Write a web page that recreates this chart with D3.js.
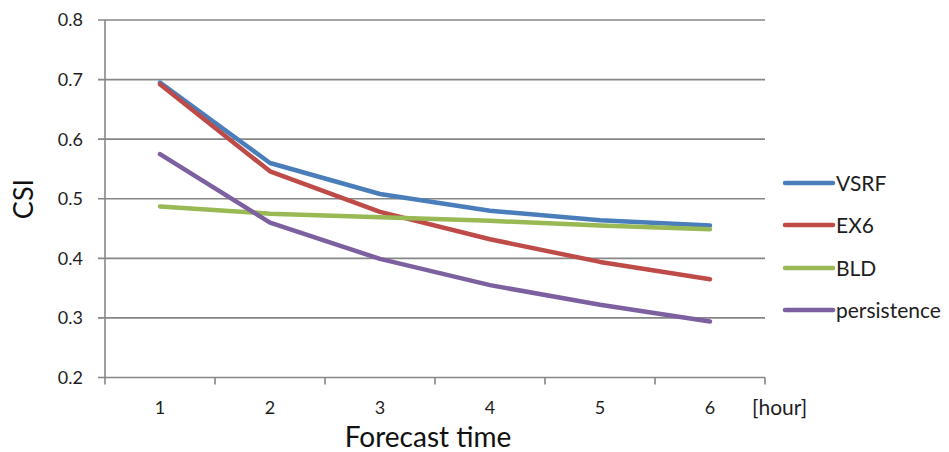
<!DOCTYPE html>
<html lang="en">
<head>
    <meta charset="UTF-8">
    <title>CSI vs forecast time</title>
    <script src="https://d3js.org/d3.v7.min.js"></script>
    <style>
        body {
            margin: 0;
            background: #fff;
            font-family: Lato, "Open Sans", sans-serif;
        }
        svg {
            display: block;
        }
    </style>
</head>
<body>

    <div id="container"></div>

    <script>

        // data
        const hours = [1, 2, 3, 4, 5, 6];
        const yTicks = [0.2, 0.3, 0.4, 0.5, 0.6, 0.7, 0.8];
        const seriesNames = ['VSRF', 'EX6', 'BLD', 'persistence'];
        const seriesColors = ['#4a7ebb', '#be4b48', '#98b954', '#7d60a0'];
        const vsrf = [0.695, 0.560, 0.508, 0.480, 0.464, 0.455];
        const ex6 = [0.692, 0.546, 0.478, 0.432, 0.394, 0.365];
        const bld = [0.487, 0.475, 0.469, 0.463, 0.455, 0.449];
        const persistence = [0.575, 0.460, 0.399, 0.355, 0.322, 0.294];

        const allSeries = [vsrf, ex6, bld, persistence];

        const width = 949;
        const height = 452;

        // plot area
        const plotLeft = 105;
        const plotRight = 765;
        const plotTop = 20;
        const plotBottom = 377.5;

        const svg = d3.select('#container')
            .append('svg')
            .attr('width', width)
            .attr('height', height);

        const x = d3.scaleBand()
            .domain(hours)
            .range([plotLeft, plotRight]);

        const y = d3.scaleLinear()
            .domain([0.2, 0.8])
            .range([plotBottom, plotTop]);

        const gridColor = '#868686';
        const textColor = '#1e1e1e';

        // horizontal gridlines
        svg.selectAll('.grid')
            .data(yTicks)
            .enter()
            .append('line')
            .attr('class', 'grid')
            .attr('x1', plotLeft - 7)
            .attr('x2', plotRight)
            .attr('y1', d => y(d))
            .attr('y2', d => y(d))
            .attr('stroke', gridColor)
            .attr('stroke-width', 1.6);

        // y axis line
        svg.append('line')
            .attr('x1', plotLeft)
            .attr('x2', plotLeft)
            .attr('y1', plotTop)
            .attr('y2', plotBottom)
            .attr('stroke', gridColor)
            .attr('stroke-width', 1.6);

        // y tick labels
        svg.selectAll('.ylabel')
            .data(yTicks)
            .enter()
            .append('text')
            .attr('class', 'ylabel')
            .attr('x', plotLeft - 22)
            .attr('y', d => y(d))
            .attr('dy', '0.36em')
            .attr('text-anchor', 'end')
            .attr('font-size', 18)
            .attr('fill', textColor)
            .text(d => d.toFixed(1));

        // x axis ticks at band edges
        const xEdges = hours.map(h => x(h)).concat([plotRight]);
        svg.selectAll('.xtick')
            .data(xEdges)
            .enter()
            .append('line')
            .attr('class', 'xtick')
            .attr('x1', d => d)
            .attr('x2', d => d)
            .attr('y1', plotBottom)
            .attr('y2', plotBottom + 7)
            .attr('stroke', gridColor)
            .attr('stroke-width', 1.6);

        // x tick labels
        svg.selectAll('.xlabel')
            .data(hours)
            .enter()
            .append('text')
            .attr('class', 'xlabel')
            .attr('x', d => x(d) + x.bandwidth() / 2)
            .attr('y', 414)
            .attr('text-anchor', 'middle')
            .attr('font-size', 18)
            .attr('fill', textColor)
            .text(d => d);

        svg.append('text')
            .attr('x', 752)
            .attr('y', 415)
            .attr('font-size', 21)
            .attr('fill', textColor)
            .text('[hour]');

        // axis titles
        svg.append('text')
            .attr('x', 428)
            .attr('y', 447)
            .attr('text-anchor', 'middle')
            .attr('font-size', 28)
            .attr('fill', '#111')
            .text('Forecast time');

        svg.append('text')
            .attr('transform', 'translate(33,199) rotate(-90)')
            .attr('text-anchor', 'middle')
            .attr('font-size', 27)
            .attr('fill', '#111')
            .text('CSI');

        // series lines
        const line = d3.line()
            .x((d, i) => x(hours[i]) + x.bandwidth() / 2)
            .y(d => y(d));

        svg.selectAll('.series')
            .data(allSeries)
            .enter()
            .append('path')
            .attr('class', 'series')
            .attr('d', d => line(d))
            .attr('fill', 'none')
            .attr('stroke', (d, i) => seriesColors[i])
            .attr('stroke-width', 4.5)
            .attr('stroke-linejoin', 'round')
            .attr('stroke-linecap', 'round');

        // legend
        const legendY = [183, 225, 268, 310];
        const legend = svg.selectAll('.legend')
            .data(seriesNames)
            .enter()
            .append('g')
            .attr('class', 'legend')
            .attr('transform', (d, i) => 'translate(785,' + legendY[i] + ')');

        legend.append('line')
            .attr('x1', 0)
            .attr('x2', 48)
            .attr('stroke', (d, i) => seriesColors[i])
            .attr('stroke-width', 4.5)
            .attr('stroke-linecap', 'round');

        legend.append('text')
            .attr('x', 51)
            .attr('dy', '0.36em')
            .attr('font-size', 21)
            .attr('fill', textColor)
            .text(d => d);

    </script>

</body>
</html>
